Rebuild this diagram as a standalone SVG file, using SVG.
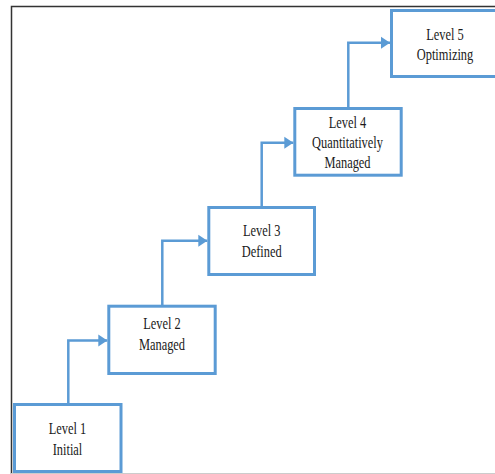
<svg xmlns="http://www.w3.org/2000/svg" width="495" height="474" viewBox="0 0 495 474">
  <defs>
    <style>
      .box { fill: #ffffff; stroke: #5B9BD5; stroke-width: 3; }
      .conn { fill: none; stroke: #5B9BD5; stroke-width: 2.5; }
      .lbl { font-size: 17px; fill: #1a1a1a; text-anchor: middle; }
      .frame { stroke: #333333; stroke-width: 1.5; fill: none; }
    </style>
    <marker id="arrow" markerUnits="userSpaceOnUse" markerWidth="10" markerHeight="14" refX="9" refY="7" orient="auto">
      <path d="M0,1 L9,7 L0,13 Z" fill="#5B9BD5"/>
    </marker>
  </defs>
  <rect x="0" y="0" width="495" height="474" fill="#ffffff"/>
  <g id="frame">
    <path class="frame" d="M11.5,474 V6.5 H495"/>
    <line x1="11" y1="473.5" x2="495" y2="473.5" stroke="#cccccc" stroke-width="1"/>
  </g>
  <g id="connectors">
    <path class="conn" d="M68.3,404 V340.5 H107.3" marker-end="url(#arrow)"/>
    <path class="conn" d="M162.3,305 V240.7 H207.3" marker-end="url(#arrow)"/>
    <path class="conn" d="M261.7,207 V142.7 H293.3" marker-end="url(#arrow)"/>
    <path class="conn" d="M348.3,108 V42.7 H390" marker-end="url(#arrow)"/>
  </g>
  <g font-family="'Liberation Serif', 'Times New Roman', serif">
  <g id="level1">
    <rect class="box" x="14.5" y="404.5" width="106.5" height="67"/>
    <text class="lbl" transform="translate(67.5,434.3) scale(0.73,1)">Level 1</text>
    <text class="lbl" transform="translate(67.5,455) scale(0.73,1)">Initial</text>
  </g>
  <g id="level2">
    <rect class="box" x="108.8" y="306.2" width="106.4" height="67.3"/>
    <text class="lbl" transform="translate(162,329) scale(0.73,1)">Level 2</text>
    <text class="lbl" transform="translate(162,350) scale(0.73,1)">Managed</text>
  </g>
  <g id="level3">
    <rect class="box" x="208.8" y="207.5" width="105.7" height="67"/>
    <text class="lbl" transform="translate(261.7,236) scale(0.73,1)">Level 3</text>
    <text class="lbl" transform="translate(261.7,256.7) scale(0.73,1)">Defined</text>
  </g>
  <g id="level4">
    <rect class="box" x="294.8" y="108.5" width="106.4" height="66.7"/>
    <text class="lbl" transform="translate(347.5,127.7) scale(0.73,1)">Level 4</text>
    <text class="lbl" transform="translate(347.5,148.3) scale(0.73,1)">Quantitatively</text>
    <text class="lbl" transform="translate(347.5,168.3) scale(0.73,1)">Managed</text>
  </g>
  <g id="level5">
    <rect class="box" x="391.5" y="10.5" width="106.5" height="66"/>
    <text class="lbl" transform="translate(445,39.5) scale(0.73,1)">Level 5</text>
    <text class="lbl" transform="translate(445,60) scale(0.73,1)">Optimizing</text>
  </g>
  </g>
</svg>
